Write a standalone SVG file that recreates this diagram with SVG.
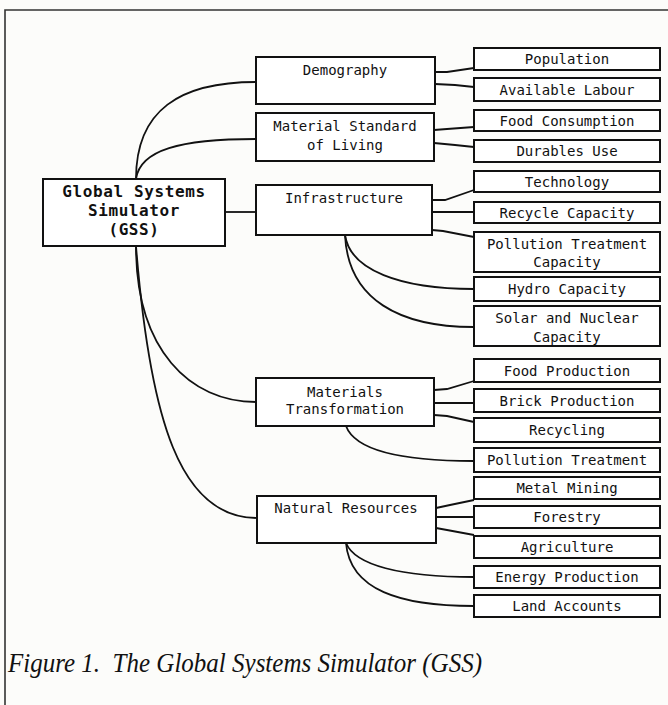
<svg xmlns="http://www.w3.org/2000/svg" width="668" height="705" viewBox="0 0 668 705">
<style>
.bx{fill:#fff;stroke:#111;stroke-width:2}
.t{font-family:"DejaVu Sans Mono","Liberation Mono",monospace;font-size:14px;fill:#111;text-anchor:middle}
.b{font-family:"DejaVu Sans Mono","Liberation Mono",monospace;font-size:16px;font-weight:bold;letter-spacing:0.6px;fill:#111;text-anchor:middle}
.c{fill:none;stroke:#111;stroke-width:1.8}
.cap{font-family:"Liberation Serif",serif;font-style:italic;font-size:27px;fill:#111;white-space:pre}
</style>
<rect x="0" y="0" width="668" height="705" fill="#fcfcfa"/>
<path d="M668,10 H5 V705" fill="none" stroke="#333" stroke-width="1.6"/>
<g id="connectors">
<path class="c" d="M136,179 C136,110 180,82 256,82"/>
<path class="c" d="M136,179 C140,150 180,139 256,139"/>
<path class="c" d="M225,212 H256"/>
<path class="c" d="M136,246 C136,350 190,402 256,402"/>
<path class="c" d="M136,246 C150,420 180,518 257,518"/>
<path class="c" d="M435,72 L447,72 L474,68"/>
<path class="c" d="M435,84 L455,85 L474,87"/>
<path class="c" d="M434,130 L447,129 L474,127"/>
<path class="c" d="M434,143 L455,145 L474,147"/>
<path class="c" d="M432,200 L445,200 L474,190"/>
<path class="c" d="M432,212 H474"/>
<path class="c" d="M432,230 L443,231 L474,237"/>
<path class="c" d="M345,235 C350,270 400,289 474,289"/>
<path class="c" d="M345,235 C348,300 400,327 474,327"/>
<path class="c" d="M434,390 L447,389 L474,381"/>
<path class="c" d="M434,403 H474"/>
<path class="c" d="M434,415 L447,416 L474,422"/>
<path class="c" d="M346,426 C355,450 400,461 474,461"/>
<path class="c" d="M436,508 L450,505 L474,500"/>
<path class="c" d="M436,517 H474"/>
<path class="c" d="M436,528 L447,530 L474,535"/>
<path class="c" d="M346,543 C355,565 400,577 474,577"/>
<path class="c" d="M346,543 C350,590 400,606 474,606"/>
</g>
<g id="gss"><rect class="bx" x="43" y="179" width="182" height="67"/>
<text class="b" x="134" y="197">Global Systems</text><text class="b" x="134" y="216">Simulator</text><text class="b" x="134" y="235">(GSS)</text></g>
<g id="demography"><rect class="bx" x="256" y="57" width="179" height="47"/><text class="t" x="345" y="75">Demography</text></g>
<g id="material"><rect class="bx" x="256" y="113" width="178" height="48"/><text class="t" x="345" y="131">Material Standard</text><text class="t" x="345" y="150">of Living</text></g>
<g id="infrastructure"><rect class="bx" x="256" y="185" width="176" height="50"/><text class="t" x="344" y="203">Infrastructure</text></g>
<g id="materials"><rect class="bx" x="256" y="378" width="178" height="48"/><text class="t" x="345" y="397">Materials</text><text class="t" x="345" y="414">Transformation</text></g>
<g id="natural"><rect class="bx" x="257" y="496" width="179" height="47"/><text class="t" x="346" y="513">Natural Resources</text></g>
<g id="population"><rect class="bx" x="474" y="48" width="186" height="22"/><text class="t" x="567" y="64">Population</text></g>
<g id="labour"><rect class="bx" x="474" y="78" width="186" height="23"/><text class="t" x="567" y="95">Available Labour</text></g>
<g id="food-consumption"><rect class="bx" x="474" y="110" width="186" height="21"/><text class="t" x="567" y="126">Food Consumption</text></g>
<g id="durables"><rect class="bx" x="474" y="140" width="186" height="22"/><text class="t" x="567" y="156">Durables Use</text></g>
<g id="technology"><rect class="bx" x="474" y="171" width="186" height="21"/><text class="t" x="567" y="187">Technology</text></g>
<g id="recycle-capacity"><rect class="bx" x="474" y="202" width="186" height="21"/><text class="t" x="567" y="218">Recycle Capacity</text></g>
<g id="pollution-capacity"><rect class="bx" x="474" y="232" width="186" height="40"/><text class="t" x="567" y="249">Pollution Treatment</text><text class="t" x="567" y="267">Capacity</text></g>
<g id="hydro"><rect class="bx" x="474" y="277" width="186" height="24"/><text class="t" x="567" y="294">Hydro Capacity</text></g>
<g id="solar"><rect class="bx" x="474" y="306" width="186" height="40"/><text class="t" x="567" y="323">Solar and Nuclear</text><text class="t" x="567" y="342">Capacity</text></g>
<g id="food-production"><rect class="bx" x="474" y="359" width="186" height="23"/><text class="t" x="567" y="376">Food Production</text></g>
<g id="brick"><rect class="bx" x="474" y="389" width="186" height="23"/><text class="t" x="567" y="406">Brick Production</text></g>
<g id="recycling"><rect class="bx" x="474" y="418" width="186" height="24"/><text class="t" x="567" y="435">Recycling</text></g>
<g id="pollution-treatment"><rect class="bx" x="474" y="448" width="186" height="24"/><text class="t" x="567" y="465">Pollution Treatment</text></g>
<g id="metal"><rect class="bx" x="474" y="477" width="186" height="22"/><text class="t" x="567" y="493">Metal Mining</text></g>
<g id="forestry"><rect class="bx" x="474" y="506" width="186" height="22"/><text class="t" x="567" y="522">Forestry</text></g>
<g id="agriculture"><rect class="bx" x="474" y="536" width="186" height="22"/><text class="t" x="567" y="552">Agriculture</text></g>
<g id="energy"><rect class="bx" x="474" y="566" width="186" height="22"/><text class="t" x="567" y="582">Energy Production</text></g>
<g id="land"><rect class="bx" x="474" y="595" width="186" height="22"/><text class="t" x="567" y="611">Land Accounts</text></g>
<text class="cap" x="8" y="672" textLength="474" lengthAdjust="spacingAndGlyphs" xml:space="preserve">Figure 1.  The Global Systems Simulator (GSS)</text>
</svg>
